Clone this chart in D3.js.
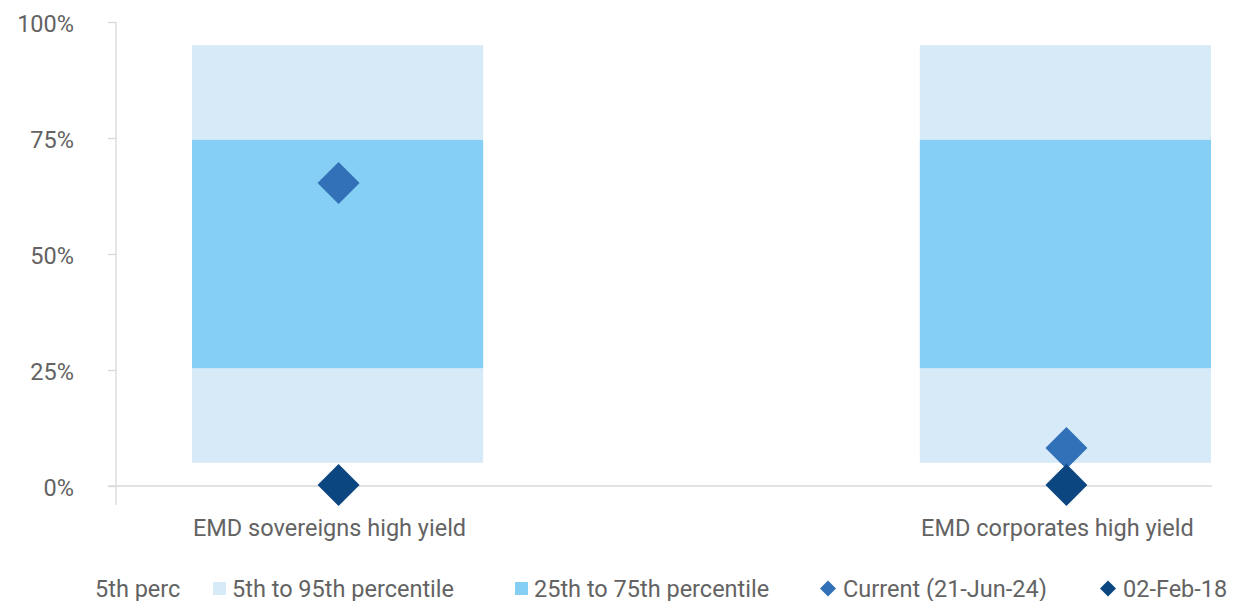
<!DOCTYPE html>
<html>
<head>
<meta charset="utf-8">
<script src="https://cdn.jsdelivr.net/npm/d3@7"></script>
<style>
  html, body { margin: 0; padding: 0; background: #fff; }
  svg { display: block; font-family: Roboto, "Open Sans", sans-serif; }
</style>
</head>
<body>
<div id="chart"></div>
<script>
// categories and series values (percent)
const categories = ["EMD sovereigns high yield", "EMD corporates high yield"];
const p5 = [5, 5];
const p25 = [25.4, 25.4];
const p75 = [74.6, 74.6];
const p95 = [95, 95];
const current = [65.3, 8.2];
const feb18 = [0.2, 0.2];
const yTicks = [0, 25, 50, 75, 100];
const legendLabels = ["5th perc", "5th to 95th percentile", "25th to 75th percentile", "Current (21-Jun-24)", "02-Feb-18"];

const colors = {
  outer: "#d6eaf8",
  inner: "#85cef4",
  current: "#3270b7",
  feb18: "#0c4680",
  axis: "#d9d9d9",
  text: "#636363"
};

const width = 1234, height = 601;
const fontSize = "23.5px";
const svg = d3.select("#chart").append("svg")
  .attr("width", width)
  .attr("height", height);

const y = d3.scaleLinear().domain([0, 100]).range([486, 22]);
const x = d3.scaleBand().domain(categories).range([192, 1211]).paddingInner(0.6).paddingOuter(0);

// vertical axis line
svg.append("line")
  .attr("x1", 116).attr("x2", 116)
  .attr("y1", y(100)).attr("y2", 505)
  .attr("stroke", colors.axis).attr("stroke-width", 1.3);

const yAxis = svg.append("g")
  .attr("transform", "translate(116,0)")
  .call(d3.axisLeft(y).tickValues(yTicks).tickSize(8).tickFormat(d => d + "%"));
yAxis.select(".domain").remove();
yAxis.selectAll(".tick line").attr("stroke", colors.axis).attr("stroke-width", 1.3);
yAxis.selectAll(".tick text")
  .attr("fill", colors.text)
  .style("font-size", fontSize)
  .style("font-family", "Roboto, sans-serif")
  .attr("x", -42)
  .attr("dy", "0.42em");

// bars
const rows = categories.map((c, i) => ({ c, p5: p5[i], p25: p25[i], p75: p75[i], p95: p95[i], cur: current[i], old: feb18[i] }));

svg.selectAll(".outer").data(rows).enter().append("rect")
  .attr("x", d => x(d.c))
  .attr("width", x.bandwidth())
  .attr("y", d => y(d.p95))
  .attr("height", d => y(d.p5) - y(d.p95))
  .attr("fill", colors.outer);

svg.selectAll(".inner").data(rows).enter().append("rect")
  .attr("x", d => x(d.c))
  .attr("width", x.bandwidth())
  .attr("y", d => y(d.p75))
  .attr("height", d => y(d.p25) - y(d.p75))
  .attr("fill", colors.inner);

// baseline
svg.append("line")
  .attr("x1", 108).attr("x2", 1212)
  .attr("y1", y(0)).attr("y2", y(0))
  .attr("stroke", colors.axis).attr("stroke-width", 1.3);

// diamonds
const diamond = d3.symbol().type(d3.symbolSquare).size(880);
svg.selectAll(".cur").data(rows).enter().append("path")
  .attr("d", diamond)
  .attr("transform", d => `translate(${x(d.c) + x.bandwidth() / 2 + 1},${y(d.cur)}) rotate(45)`)
  .attr("fill", colors.current);

svg.selectAll(".old").data(rows).enter().append("path")
  .attr("d", diamond)
  .attr("transform", d => `translate(${x(d.c) + x.bandwidth() / 2 + 1},${y(d.old)}) rotate(45)`)
  .attr("fill", colors.feb18);

// category labels
svg.selectAll(".cat").data(categories).enter().append("text")
  .attr("x", d => x(d) + x.bandwidth() / 2 - 8)
  .attr("y", 536)
  .attr("text-anchor", "middle")
  .attr("fill", colors.text)
  .style("font-size", fontSize)
  .text(d => d);

// legend
const legendX = [95, 213, 515, 820, 1100];
const legendMarks = [null, "outer", "inner", "current", "feb18"];
const ly = 588.5;
const legend = svg.append("g");
legendLabels.forEach((label, i) => {
  const m = legendMarks[i];
  let tx = legendX[i];
  if (m === "outer" || m === "inner") {
    legend.append("rect")
      .attr("x", legendX[i]).attr("y", ly - 6.5)
      .attr("width", 13).attr("height", 13)
      .attr("fill", colors[m]);
    tx = legendX[i] + 19;
  } else if (m) {
    legend.append("path")
      .attr("d", d3.symbol().type(d3.symbolSquare).size(128)())
      .attr("transform", `translate(${legendX[i] + 8},${ly}) rotate(45)`)
      .attr("fill", colors[m]);
    tx = legendX[i] + 23;
  }
  legend.append("text")
    .attr("x", tx).attr("y", ly + 8)
    .attr("fill", colors.text)
    .style("font-size", fontSize)
    .text(label);
});
</script>
</body>
</html>
